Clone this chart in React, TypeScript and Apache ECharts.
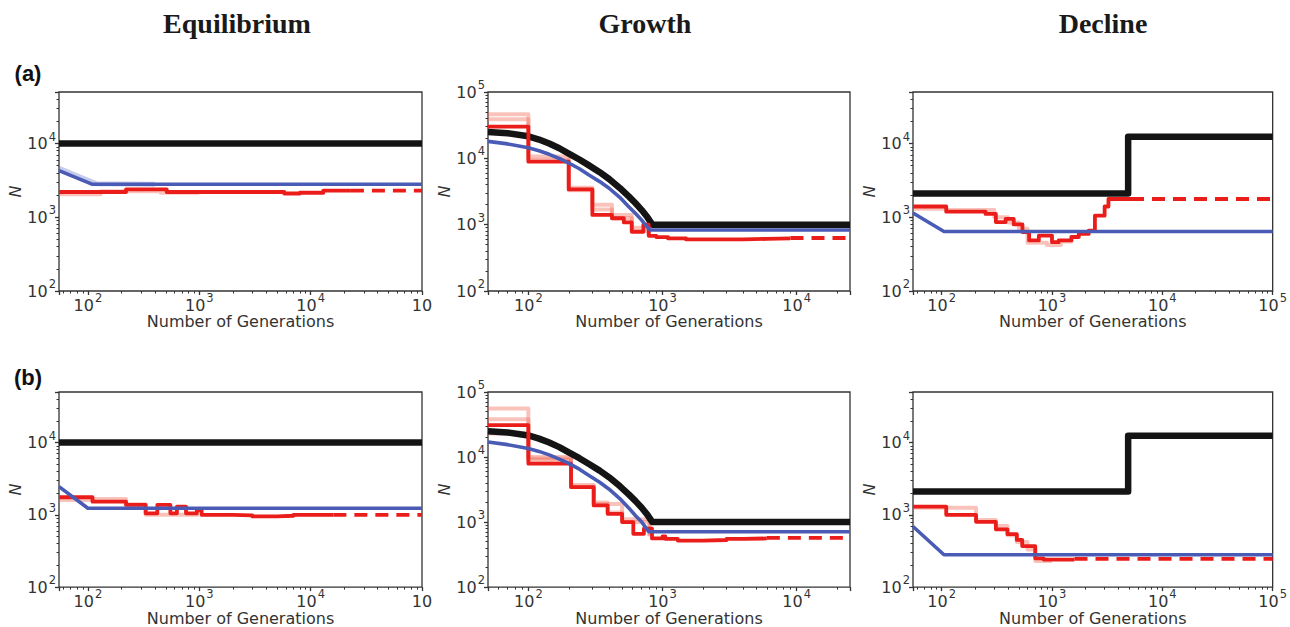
import React, { useEffect, useRef } from "react";
import * as echarts from "echarts";

// ---------- text ----------
const columnTitles = ["Equilibrium", "Growth", "Decline"];
const rowLabels = ["(a)", "(b)"];
const xTitle = "Number of Generations";
const yTitle = "N";

// ---------- axis ranges ----------
const eqXRange = [55, 100000];
const grXRange = [50, 25000];
const dcXRange = [55, 100000];
const eqYRange = [100, 50000];
const grYRange = [100, 100000];
const dcYRange = [100, 50000];

// ---------- Equilibrium (a) ----------
const eqA_true = [[55, 10000], [100000, 10000]];
const eqA_blue = [[55, 4300], [110, 2800], [100000, 2800]];
const eqA_blueFaint = [[55, 4600], [120, 2850], [400, 2800]];
const eqA_red = [[55, 2200], [220, 2390], [510, 2200], [5800, 2100], [8000, 2150], [13000, 2300], [23000, 2300]];
const eqA_redDash = [[23000, 2300], [100000, 2300]];
const eqA_redFaint = [[55, 2050], [130, 2250], [450, 2150], [1000, 2150]];

// ---------- Equilibrium (b) ----------
const eqB_true = [[55, 10000], [100000, 10000]];
const eqB_blue = [[55, 2450], [100, 1230], [100000, 1230]];
const eqB_red = [[55, 1750], [110, 1520], [220, 1370], [330, 1050], [420, 1370], [550, 1050], [630, 1300], [760, 1050], [950, 1150], [1050, 1000], [2000, 980], [3000, 950], [5000, 970], [7000, 1000], [16000, 1000]];
const eqB_redDash = [[16000, 1000], [100000, 1000]];
const eqB_redFaint = [[55, 1600], [110, 1650], [220, 1400], [330, 1000], [700, 1000], [1000, 1000]];

// ---------- Growth (a) ----------
const grA_true = [[50, 25000], [70, 23900], [100, 21500], [120, 19200], [143, 16700], [170, 14200], [200, 11800], [240, 9600], [283, 7830], [340, 6180], [400, 4880], [480, 3580], [560, 2670], [630, 2100], [700, 1660], [770, 1300], [840, 1000], [25000, 1000]];
const grA_blue = [[50, 18000], [70, 16500], [100, 14400], [120, 13000], [143, 11500], [170, 9950], [200, 8500], [240, 6970], [283, 5600], [340, 4460], [400, 3540], [480, 2580], [560, 1870], [630, 1470], [700, 1170], [760, 946], [810, 830], [25000, 830]];
const grA_red = [[50, 30000], [100, 8900], [200, 3400], [300, 1400], [420, 1250], [515, 1080], [590, 780], [720, 1000], [790, 680], [900, 650], [1100, 620], [1500, 600], [2500, 600], [4000, 610], [6000, 620], [9000, 630]];
const grA_redDash = [[9000, 630], [25000, 630]];
const grA_redFaint1 = [[50, 46000], [100, 10700], [200, 3600], [300, 2000], [420, 1400], [590, 900], [790, 700]];
const grA_redFaint2 = [[50, 39000], [100, 9500], [200, 3300], [300, 1700], [420, 1250], [590, 800], [790, 680]];

// ---------- Growth (b) ----------
const grB_true = [[50, 25000], [70, 23900], [100, 21500], [120, 19200], [143, 16700], [170, 14200], [200, 11800], [240, 9600], [283, 7830], [340, 6180], [400, 4880], [480, 3580], [560, 2670], [630, 2100], [700, 1660], [770, 1300], [840, 1000], [25000, 1000]];
const grB_blue = [[50, 17000], [70, 15500], [100, 13500], [120, 12200], [143, 10800], [170, 9300], [200, 8000], [240, 6500], [283, 5200], [340, 4100], [400, 3200], [480, 2300], [560, 1650], [630, 1250], [700, 1000], [750, 820], [790, 710], [25000, 710]];
const grB_red = [[50, 31000], [100, 7900], [208, 3450], [307, 1800], [390, 1340], [500, 1000], [606, 660], [727, 790], [835, 560], [1000, 600], [1050, 550], [1300, 520], [2000, 530], [3000, 550], [4000, 560], [6000, 570]];
const grB_redDash = [[6000, 570], [25000, 570]];
const grB_redFaint1 = [[50, 56000], [100, 10000], [208, 3700], [307, 2000], [390, 1400], [500, 1100], [800, 620]];
const grB_redFaint2 = [[50, 38000], [100, 9500], [208, 3500], [307, 1900], [500, 1000], [800, 600]];
const grB_redFaint3 = [[50, 23000], [100, 9000], [208, 3300]];

// ---------- Decline (a) ----------
const dcA_true = [[55, 2100], [4900, 12400], [100000, 12400]];
const dcA_blue = [[55, 1140], [105, 640], [100000, 640]];
const dcA_red = [[55, 1400], [110, 1190], [250, 1110], [310, 860], [380, 950], [450, 800], [540, 630], [620, 485], [760, 565], [1000, 460], [1150, 485], [1500, 540], [1750, 595], [2150, 660], [2450, 1050], [3000, 1400], [3250, 1770], [5200, 1770]];
const dcA_redDash = [[5200, 1770], [100000, 1770]];
const dcA_redFaint = [[55, 1300], [110, 1250], [300, 1000], [400, 850], [500, 700], [600, 450], [900, 420], [1200, 470], [1500, 560]];

// ---------- Decline (b) ----------
const dcB_true = [[55, 2100], [4900, 12400], [100000, 12400]];
const dcB_blue = [[55, 690], [105, 280], [100000, 280]];
const dcB_red = [[55, 1300], [110, 1000], [205, 800], [310, 630], [395, 540], [480, 450], [537, 370], [705, 250], [840, 240], [1600, 245]];
const dcB_redDash = [[1600, 245], [100000, 245]];
const dcB_redFaint = [[55, 1250], [110, 1250], [205, 850], [310, 700], [395, 520], [480, 420], [600, 330], [705, 230], [1000, 230]];

// ---------- styling ----------
const BLACK = "#141414";
const BLUE = "#4a5bb5";
const RED = "#ea1d1a";
const RED_FAINT = "rgba(240,105,85,0.4)";
const BLUE_FAINT = "rgba(90,110,200,0.35)";
const AXIS_COLOR = "#333";
const TICK_FONT = "DejaVu Sans";

function powLabel(v: number, cutTop: boolean): string {
  const e = Math.log10(v);
  const r = Math.round(e);
  if (Math.abs(e - r) > 1e-6) return "";
  if (cutTop && r === 5) return "{b|10}";
  return "{b|10}{s|" + r + "}";
}

function minorValues(range: number[]): number[] {
  const out: number[] = [];
  const d0 = Math.floor(Math.log10(range[0]));
  const d1 = Math.ceil(Math.log10(range[1]));
  for (let d = d0; d <= d1; d++) {
    for (let k = 2; k <= 9; k++) {
      const v = k * Math.pow(10, d);
      if (v > range[0] && v < range[1]) out.push(v);
    }
  }
  return out;
}

type Panel = {
  xr: number[];
  yr: number[];
  cut: boolean;
  truth: number[][];
  truthStep: boolean;
  blue: number[][];
  blueFaint?: number[][];
  red: number[][];
  redDash: number[][];
  faints: number[][][];
};

const panels: Panel[] = [
  { xr: eqXRange, yr: eqYRange, cut: true, truth: eqA_true, truthStep: false, blue: eqA_blue, blueFaint: eqA_blueFaint, red: eqA_red, redDash: eqA_redDash, faints: [eqA_redFaint] },
  { xr: grXRange, yr: grYRange, cut: false, truth: grA_true, truthStep: false, blue: grA_blue, red: grA_red, redDash: grA_redDash, faints: [grA_redFaint1, grA_redFaint2] },
  { xr: dcXRange, yr: dcYRange, cut: false, truth: dcA_true, truthStep: true, blue: dcA_blue, red: dcA_red, redDash: dcA_redDash, faints: [dcA_redFaint] },
  { xr: eqXRange, yr: eqYRange, cut: true, truth: eqB_true, truthStep: false, blue: eqB_blue, red: eqB_red, redDash: eqB_redDash, faints: [eqB_redFaint] },
  { xr: grXRange, yr: grYRange, cut: false, truth: grB_true, truthStep: false, blue: grB_blue, red: grB_red, redDash: grB_redDash, faints: [grB_redFaint1, grB_redFaint2, grB_redFaint3] },
  { xr: dcXRange, yr: dcYRange, cut: false, truth: dcB_true, truthStep: true, blue: dcB_blue, red: dcB_red, redDash: dcB_redDash, faints: [dcB_redFaint] },
];

const gridBoxes = [
  { left: 59, top: 92, width: 363, height: 199 },
  { left: 488, top: 92, width: 362, height: 199 },
  { left: 913, top: 92, width: 363, height: 199 },
  { left: 59, top: 392, width: 363, height: 199 },
  { left: 488, top: 392, width: 362, height: 199 },
  { left: 913, top: 392, width: 363, height: 199 },
];

const titleCenters = [237, 645, 1103];
const rowLabelY = [73, 377];

const richLabel = {
  b: { fontFamily: TICK_FONT, fontSize: 16, color: AXIS_COLOR, padding: [5, 0, 5, 0], verticalAlign: "middle" },
  s: { fontFamily: TICK_FONT, fontSize: 11.5, color: AXIS_COLOR, verticalAlign: "top", padding: [0, 0, 0, 1] },
};

function buildOption() {
  const grid = gridBoxes.map((g) => ({
    ...g,
    show: true,
    borderColor: AXIS_COLOR,
    borderWidth: 1.3,
    backgroundColor: "#fff",
    containLabel: false,
  }));

  const mainX = panels.map((p, i) => ({
    type: "log",
    logBase: 10,
    gridIndex: i,
    position: "bottom",
    min: p.xr[0],
    max: p.xr[1],
    name: xTitle,
    nameLocation: "middle",
    nameGap: 22,
    nameTextStyle: { fontFamily: TICK_FONT, fontSize: 16, color: AXIS_COLOR },
    axisLine: { show: false },
    axisTick: { show: true, length: 4, lineStyle: { color: AXIS_COLOR, width: 1.3 } },
    splitLine: { show: false },
    axisLabel: {
      margin: 1,
      showMinLabel: true,
      showMaxLabel: true,
      formatter: (v: number) => powLabel(v, p.cut),
      rich: richLabel,
    },
  }));
  const minorX = panels.map((p, i) => ({
    type: "log",
    logBase: 10,
    gridIndex: i,
    position: "bottom",
    min: p.xr[0],
    max: p.xr[1],
    axisLine: { show: false },
    axisLabel: { show: false },
    splitLine: { show: false },
    axisTick: { show: true, length: 2.5, customValues: minorValues(p.xr), lineStyle: { color: AXIS_COLOR, width: 1 } },
  }));

  const mainY = panels.map((p, i) => ({
    type: "log",
    logBase: 10,
    gridIndex: i,
    position: "left",
    min: p.yr[0],
    max: p.yr[1],
    name: yTitle,
    nameLocation: "middle",
    nameRotate: 90,
    nameGap: 31,
    nameTextStyle: { fontFamily: TICK_FONT, fontSize: 16, fontStyle: "italic", color: AXIS_COLOR },
    axisLine: { show: false },
    axisTick: { show: true, length: 4, lineStyle: { color: AXIS_COLOR, width: 1.3 } },
    splitLine: { show: false },
    axisLabel: {
      margin: 3,
      formatter: (v: number) => powLabel(v, false),
      rich: richLabel,
    },
  }));
  const minorY = panels.map((p, i) => ({
    type: "log",
    logBase: 10,
    gridIndex: i,
    position: "left",
    min: p.yr[0],
    max: p.yr[1],
    axisLine: { show: false },
    axisLabel: { show: false },
    splitLine: { show: false },
    axisTick: { show: true, length: 2.5, customValues: minorValues(p.yr), lineStyle: { color: AXIS_COLOR, width: 1 } },
  }));

  const series: any[] = [];
  const mk = (i: number, data: number[][], color: string, width: number, z: number, step: any, type: any = "solid") => ({
    type: "line",
    xAxisIndex: i,
    yAxisIndex: i,
    data,
    symbol: "none",
    showSymbol: false,
    silent: true,
    step,
    z,
    lineStyle: { color, width, type, cap: "butt", join: "round" },
  });

  panels.forEach((p, i) => {
    p.faints.forEach((f) => series.push(mk(i, f, RED_FAINT, 4, 2, "end")));
    if (p.blueFaint) series.push(mk(i, p.blueFaint, BLUE_FAINT, 5, 2, false));
    series.push(mk(i, p.truth, BLACK, 6.5, 3, p.truthStep ? "end" : false));
    series.push(mk(i, p.red, RED, 3.8, 4, "end"));
    series.push(mk(i, p.redDash, RED, 3.8, 4, false, [13, 8]));
    series.push(mk(i, p.blue, BLUE, 3.6, 5, false));
  });

  const graphic: any[] = [];
  columnTitles.forEach((t, k) => {
    graphic.push({
      type: "text",
      x: titleCenters[k],
      y: 23,
      style: {
        text: t,
        font: 'bold 28px "Liberation Serif", "DejaVu Serif", serif',
        fill: "#1a1a1a",
        textAlign: "center",
        textVerticalAlign: "middle",
      },
    });
  });
  rowLabels.forEach((t, k) => {
    graphic.push({
      type: "text",
      x: 28,
      y: rowLabelY[k],
      style: {
        text: t,
        font: 'bold 22px "Liberation Sans", Arial, sans-serif',
        fill: "#111",
        textAlign: "center",
        textVerticalAlign: "middle",
      },
    });
  });

  return {
    animation: false,
    backgroundColor: "#ffffff",
    grid,
    xAxis: [...mainX, ...minorX],
    yAxis: [...mainY, ...minorY],
    series,
    graphic,
  };
}

export default function App() {
  const ref = useRef<HTMLDivElement>(null);
  useEffect(() => {
    document.body.style.margin = "0";
    if (!ref.current) return;
    const chart = echarts.init(ref.current, null, { renderer: "svg" });
    chart.setOption(buildOption() as any);
    return () => chart.dispose();
  }, []);
  return <div ref={ref} style={{ width: 1290, height: 627 }} />;
}
